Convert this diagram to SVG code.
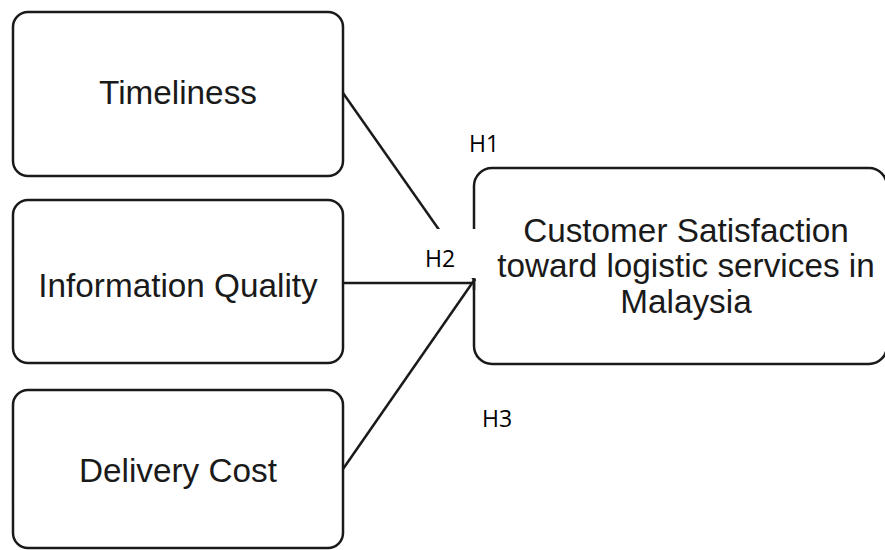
<svg xmlns="http://www.w3.org/2000/svg" width="885" height="550" viewBox="0 0 885 550">
  <style>
    .box { fill: #ffffff; stroke: #1a1a1a; stroke-width: 2.5; }
    .label { font-family: "Liberation Sans", Arial, sans-serif; font-size: 33.3px; fill: #1a1a1a; text-anchor: middle; }
    .hyp { font-family: "Open Sans", "Liberation Sans", sans-serif; font-size: 23px; fill: #000000; }
    .conn { stroke: #1a1a1a; stroke-width: 2.5; fill: none; }
  </style>
  <rect width="885" height="550" fill="#ffffff"/>

  <g id="node-timeliness">
    <rect class="box" x="13" y="12" width="330" height="164" rx="15"/>
    <text class="label" x="178" y="104">Timeliness</text>
  </g>

  <g id="node-information-quality">
    <rect class="box" x="13" y="200" width="330" height="163" rx="15"/>
    <text class="label" x="178" y="297">Information Quality</text>
  </g>

  <g id="node-delivery-cost">
    <rect class="box" x="13" y="390" width="330" height="158" rx="15"/>
    <text class="label" x="178" y="482">Delivery Cost</text>
  </g>

  <g id="node-customer-satisfaction">
    <rect class="box" x="474" y="168" width="413" height="196" rx="18"/>
    <text class="label" x="686" y="242">Customer Satisfaction</text>
    <text class="label" x="686" y="277">toward logistic services in</text>
    <text class="label" x="686" y="313">Malaysia</text>
  </g>

  <g id="connectors">
    <line class="conn" x1="343" y1="93" x2="475" y2="281"/>
    <line class="conn" x1="343" y1="283" x2="475" y2="283"/>
    <line class="conn" x1="343" y1="469" x2="475" y2="279"/>
    <line class="conn" x1="474" y1="277" x2="474" y2="290"/>
  </g>

  <!-- label backdrop for H2, drawn over the connector ends -->
  <rect x="418" y="229" width="60" height="49" fill="#ffffff"/>

  <g id="hypothesis-labels">
    <text class="hyp" x="469" y="152">H1</text>
    <text class="hyp" x="425" y="267">H2</text>
    <text class="hyp" x="482" y="427">H3</text>
  </g>
</svg>
